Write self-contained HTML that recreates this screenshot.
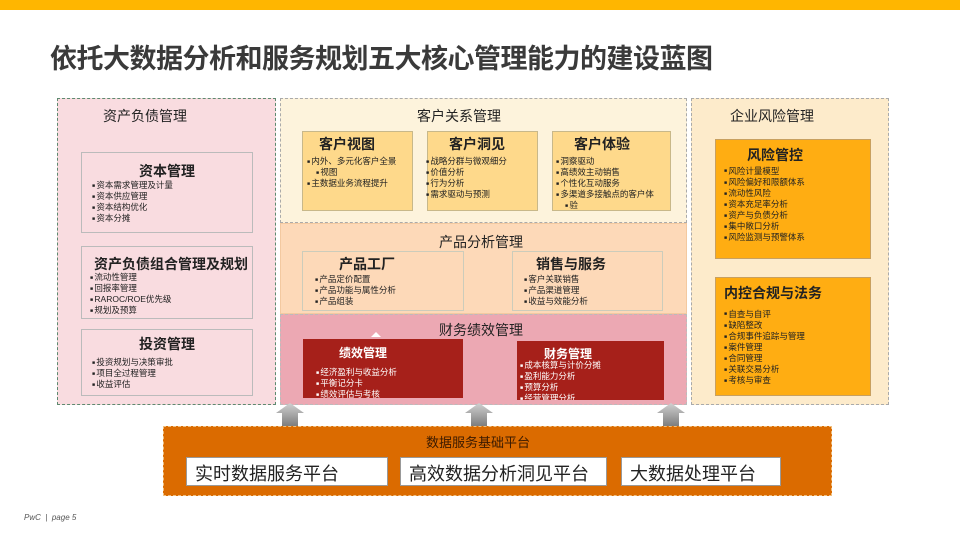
<!DOCTYPE html>
<html><head><meta charset="utf-8"><style>
*{margin:0;padding:0;box-sizing:border-box}
body{width:960px;height:540px;position:relative;background:#fff;font-family:"Liberation Sans","Noto Sans CJK SC",sans-serif;overflow:hidden;color:#222}
.a{position:absolute}
.t{position:absolute;white-space:nowrap}
ul{list-style:none;font-size:8.5px;line-height:10.5px;position:absolute;white-space:nowrap}
ul li:before{content:"■ ";font-size:5px;vertical-align:middle}
.bt{font-weight:bold;font-size:14px;position:absolute;white-space:nowrap;text-align:center}
</style></head><body>
<div class="a" style="left:0;top:0;width:960px;height:10px;background:#FFB600"></div>
<div class="t" style="left:50px;top:37px;font-size:27px;font-weight:bold;color:#3a3a3a;letter-spacing:-0.5px">依托大数据分析和服务规划五大核心管理能力的建设蓝图</div>

<!-- left -->
<div class="a" style="left:57px;top:98px;width:219px;height:307px;background:#F9DCE0;border:1px dashed #5E8A70"></div>
<div class="t" style="left:103px;top:106px;font-size:14px">资产负债管理</div>
<div class="a" style="left:81px;top:152px;width:172px;height:81px;border:1px solid #bbb"></div>
<div class="bt" style="left:81px;top:161px;width:172px">资本管理</div>
<ul style="left:92px;top:180px"><li>资本需求管理及计量</li><li>资本供应管理</li><li>资本结构优化</li><li>资本分摊</li></ul>
<div class="a" style="left:81px;top:246px;width:172px;height:73px;border:1px solid #bbb"></div>
<div class="bt" style="left:81px;top:254px;width:190px;text-align:left;padding-left:13px">资产负债组合管理及规划</div>
<ul style="left:90px;top:272px"><li>流动性管理</li><li>回报率管理</li><li>RAROC/ROE优先级</li><li>规划及预算</li></ul>
<div class="a" style="left:81px;top:329px;width:172px;height:67px;border:1px solid #bbb"></div>
<div class="bt" style="left:81px;top:334px;width:172px">投资管理</div>
<ul style="left:92px;top:357px"><li>投资规划与决策审批</li><li>项目全过程管理</li><li>收益评估</li></ul>

<!-- customer -->
<div class="a" style="left:280px;top:98px;width:407px;height:125px;background:#FDF3DC;border:1px dashed #aaa"></div>
<div class="t" style="left:417px;top:106px;font-size:14px">客户关系管理</div>
<div class="a" style="left:302px;top:131px;width:111px;height:80px;background:#FED98B;border:1px solid #c8b88a"></div>
<div class="bt" style="left:302px;top:134px;width:90px">客户视图</div>
<ul style="left:307px;top:156px;line-height:10.5px"><li>内外、多元化客户全景</li><li style="padding-left:9px">视图</li><li>主数据业务流程提升</li></ul>
<div class="a" style="left:427px;top:131px;width:111px;height:80px;background:#FED98B;border:1px solid #c8b88a"></div>
<div class="bt" style="left:427px;top:134px;width:100px">客户洞见</div>
<ul style="left:426px;top:156px"><li>战略分群与微观细分</li><li>价值分析</li><li>行为分析</li><li>需求驱动与预测</li></ul>
<div class="a" style="left:552px;top:131px;width:119px;height:80px;background:#FED98B;border:1px solid #c8b88a"></div>
<div class="bt" style="left:552px;top:134px;width:100px">客户体验</div>
<ul style="left:556px;top:156px"><li>洞察驱动</li><li>高绩效主动销售</li><li>个性化互动服务</li><li>多渠道多接触点的客户体</li><li style="padding-left:9px">验</li></ul>

<!-- product -->
<div class="a" style="left:280px;top:223px;width:407px;height:91px;background:#FDD9B8;border:1px solid #f3c9a0"></div>
<div class="t" style="left:439px;top:232px;font-size:14px">产品分析管理</div>
<div class="a" style="left:302px;top:251px;width:162px;height:60px;border:1px solid #ccb"></div>
<div class="bt" style="left:302px;top:254px;width:130px">产品工厂</div>
<ul style="left:315px;top:274px"><li>产品定价配置</li><li>产品功能与属性分析</li><li>产品组装</li></ul>
<div class="a" style="left:512px;top:251px;width:151px;height:60px;border:1px solid #ccb"></div>
<div class="bt" style="left:512px;top:254px;width:118px">销售与服务</div>
<ul style="left:524px;top:274px"><li>客户关联销售</li><li>产品渠道管理</li><li>收益与效能分析</li></ul>

<!-- finance -->
<div class="a" style="left:280px;top:314px;width:407px;height:91px;background:#ECA8B3;border:1px dashed #bbb"></div>
<div class="t" style="left:439px;top:320px;font-size:14px">财务绩效管理</div>
<div class="a" style="left:371px;top:332px;width:0;height:0;border-left:5px solid transparent;border-right:5px solid transparent;border-bottom:5px solid #fff"></div>
<div class="a" style="left:303px;top:339px;width:160px;height:59px;background:#A6201A;overflow:hidden;color:#fff">
<div class="t" style="left:36px;top:5px;font-size:12px;font-weight:bold">绩效管理</div>
<ul style="left:13px;top:28px;font-size:8.5px"><li>经济盈利与收益分析</li><li>平衡记分卡</li><li>绩效评估与考核</li></ul></div>
<div class="a" style="left:517px;top:341px;width:147px;height:59px;background:#A6201A;overflow:hidden;color:#fff">
<div class="t" style="left:27px;top:4px;font-size:12px;font-weight:bold">财务管理</div>
<ul style="left:3px;top:19px;font-size:8.5px"><li>成本核算与计价分摊</li><li>盈利能力分析</li><li>预算分析</li><li>经营管理分析</li></ul></div>

<!-- right -->
<div class="a" style="left:691px;top:98px;width:198px;height:307px;background:#FDEBCB;border:1px dashed #aaa"></div>
<div class="t" style="left:730px;top:106px;font-size:14px">企业风险管理</div>
<div class="a" style="left:715px;top:139px;width:156px;height:120px;background:#FFAD12;border:1px solid #c8a060"></div>
<div class="bt" style="left:715px;top:145px;width:120px">风险管控</div>
<ul style="left:724px;top:166px;line-height:10.6px"><li>风险计量模型</li><li>风险偏好和限额体系</li><li>流动性风险</li><li>资本充足率分析</li><li>资产与负债分析</li><li>集中敞口分析</li><li>风险监测与预警体系</li></ul>
<div class="a" style="left:715px;top:277px;width:156px;height:119px;background:#FFAD12;border:1px solid #c8a060"></div>
<div class="bt" style="left:715px;top:283px;width:116px">内控合规与法务</div>
<ul style="left:724px;top:309px;line-height:10.6px"><li>自查与自评</li><li>缺陷整改</li><li>合规事件追踪与管理</li><li>案件管理</li><li>合同管理</li><li>关联交易分析</li><li>考核与审查</li></ul>

<!-- arrows -->
<svg class="a" style="left:0;top:0" width="960" height="540">
<defs><linearGradient id="g" x1="0" y1="0" x2="0" y2="1"><stop offset="0" stop-color="#d0d0d0"/><stop offset="1" stop-color="#7a7a7a"/></linearGradient></defs>
<g fill="url(#g)">
<polygon points="276,413 290,403 304,413 298,413 298,427 282,427 282,413"/>
<polygon points="465,413 479,403 493,413 487,413 487,427 471,427 471,413"/>
<polygon points="657,413 671,403 685,413 679,413 679,427 663,427 663,413"/>
</g></svg>

<!-- bottom -->
<div class="a" style="left:163px;top:426px;width:669px;height:70px;background:#DB6B00;border:1px dashed #f0c080"></div>
<div class="t" style="left:426px;top:432px;font-size:13px;color:#3a1a00">数据服务基础平台</div>
<div class="a" style="left:186px;top:457px;width:202px;height:29px;background:#fff;border:1px solid #999"></div>
<div class="t" style="left:195px;top:460px;font-size:18px">实时数据服务平台</div>
<div class="a" style="left:400px;top:457px;width:207px;height:29px;background:#fff;border:1px solid #999"></div>
<div class="t" style="left:409px;top:460px;font-size:18px">高效数据分析洞见平台</div>
<div class="a" style="left:621px;top:457px;width:160px;height:29px;background:#fff;border:1px solid #999"></div>
<div class="t" style="left:630px;top:460px;font-size:18px">大数据处理平台</div>

<div class="t" style="left:24px;top:513px;font-size:8px;font-style:italic;color:#555">PwC &nbsp;|&nbsp; page 5</div>
</body></html>
